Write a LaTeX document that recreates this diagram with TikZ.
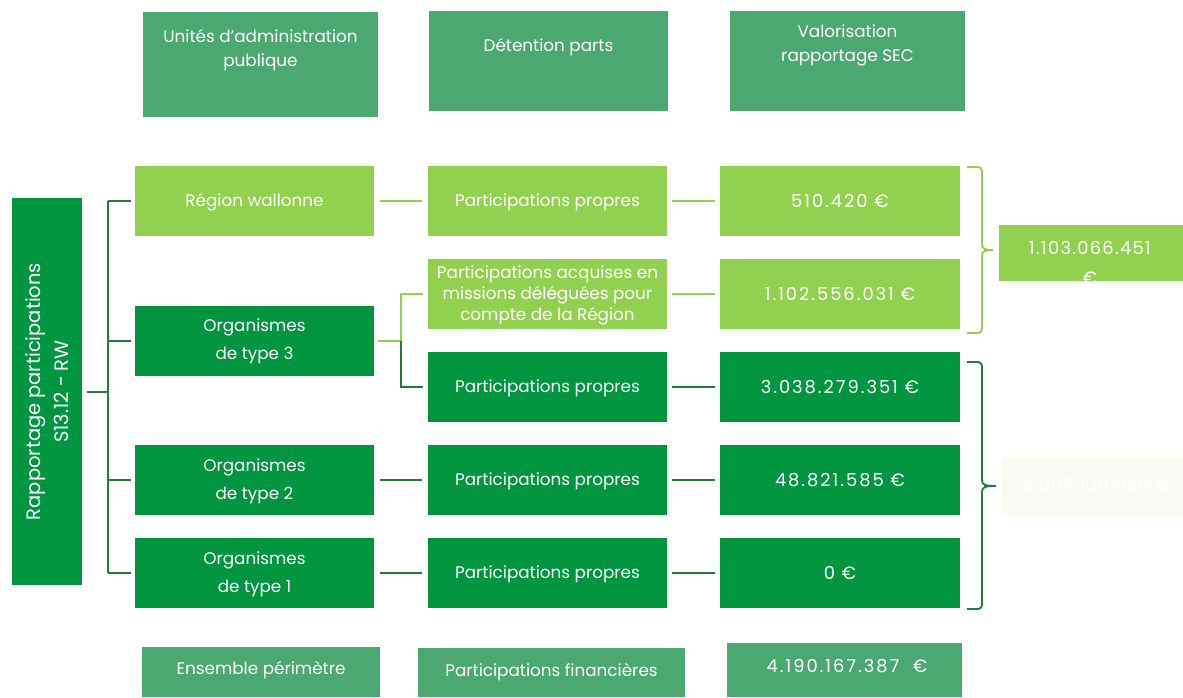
\documentclass[tikz,border=0pt]{standalone}
\usepackage{fontspec}
\setmainfont{Poppins}
\newfontfamily\numfont{Poppins}[Numbers=Monospaced, LetterSpace=11]
\newfontfamily\numfontb{Poppins}[Numbers=Monospaced, LetterSpace=7]
\definecolor{hdr}{HTML}{4AA870}
\definecolor{dk}{HTML}{009640}
\definecolor{lt}{HTML}{92D050}
\definecolor{ln}{HTML}{1E7D36}
\definecolor{pale}{HTML}{F7FBF0}
\tikzset{
  box/.style={fill=#1, draw=none, inner sep=0pt},
  wh/.style 2 args={minimum width={#1*0.75pt}, minimum height={#2*0.75pt}},
  txt/.style={text=white, inner sep=0pt, align=center, font=\fontsize{12.6}{15.8}\selectfont},
  num/.style={txt, font=\fontsize{13.4}{15.8}\selectfont\numfont},
  tree/.style={draw=ln, line width=2.2pt},
  dconn/.style={draw=ln, line width=2pt},
  lconn/.style={draw=lt, line width=2pt},
  brl/.style={draw=lt, line width=1.4pt},
  brd/.style={draw=ln, line width=1.4pt},
}
\begin{document}
\begin{tikzpicture}[x=0.75pt,y=-0.75pt]
\useasboundingbox (0,0) rectangle (1183,697);
% headers
\node[box=hdr, wh={235}{105}] (h1) at (260.5,64.5) {};
\node[txt, font=\fontsize{12.6}{18}\selectfont] (h1t) at (260.5,50) {Unités d’administration\\publique};
\node[box=hdr, wh={239}{100}] (h2) at (548.5,61) {};
\node[txt] (h2t) at (548.5,47) {Détention parts};
\node[box=hdr, wh={235}{100}] (h3) at (847.5,61) {};
\node[txt, font=\fontsize{12.6}{18}\selectfont] (h3t) at (847.5,45) {Valorisation\\rapportage SEC};
% left box
\node[box=dk, wh={70}{387}] (L) at (47,391.5) {};
\node[txt, rotate=90, font=\fontsize{14.6}{21.5}\selectfont] (Lt) at (47,391.5) {Rapportage participations\\S13.12 - RW};
% column 1
\node[box=lt, wh={239}{70}] (reg) at (254.5,201) {};
\node[txt] (regt) at (254.5,202) {Région wallonne};
\node[box=dk, wh={239}{70}] (o3) at (254.5,341) {};
\node[txt, font=\fontsize{12.6}{21}\selectfont] (o3t) at (254.5,341) {Organismes\\de type 3};
\node[box=dk, wh={239}{70}] (o2) at (254.5,480) {};
\node[txt, font=\fontsize{12.6}{21}\selectfont] (o2t) at (254.5,481) {Organismes\\de type 2};
\node[box=dk, wh={239}{70}] (o1) at (254.5,573) {};
\node[txt, font=\fontsize{12.6}{21}\selectfont] (o1t) at (254.5,574) {Organismes\\de type 1};
% column 2
\node[box=lt, wh={239}{70}] (p1) at (547.5,201) {};
\node[txt] (p1t) at (547.5,202) {Participations propres};
\node[box=lt, wh={239}{70}] (pm) at (547.5,294) {};
\node[txt] (pmt) at (547.5,295) {Participations acquises en\\missions déléguées pour\\compte de la Région};
\node[box=dk, wh={239}{70}] (p3) at (547.5,387) {};
\node[txt] (p3t) at (547.5,388) {Participations propres};
\node[box=dk, wh={239}{70}] (p2) at (547.5,480) {};
\node[txt] (p2t) at (547.5,481) {Participations propres};
\node[box=dk, wh={239}{70}] (p0) at (547.5,573) {};
\node[txt] (p0t) at (547.5,574) {Participations propres};
% column 3
\node[box=lt, wh={240}{70}] (v1) at (840,201) {};
\node[num] (v1t) at (840,201) {510.420 €};
\node[box=lt, wh={240}{70}] (vm) at (840,294) {};
\node[num] (vmt) at (840,294) {1.102.556.031 €};
\node[box=dk, wh={240}{70}] (v3) at (840,387) {};
\node[num] (v3t) at (840,387) {3.038.279.351 €};
\node[box=dk, wh={240}{70}] (v2) at (840,480) {};
\node[num] (v2t) at (840,480) {48.821.585 €};
\node[box=dk, wh={240}{70}] (v0) at (840,573) {};
\node[num] (v0t) at (840,573) {0 €};
% right totals
\begin{scope}
\clip (999,225) rectangle (1183,281);
\node[box=lt, wh={190}{56}] (t1) at (1094,253) {};
\node[num, font=\fontsize{13.4}{22.5}\selectfont\numfontb] (t1t) at (1090,263) {1.103.066.451\\€};
\end{scope}
\node[box=pale, wh={181}{57}] (t2) at (1092.5,486.5) {};
\node[num, font=\fontsize{13}{15.8}\selectfont\numfontb] (t2t) at (1096,485) {3.087.100.936 €};
% bottom row
\node[box=hdr, wh={238}{50}] (b1) at (261,672) {};
\node[txt] (b1t) at (261,670) {Ensemble périmètre};
\node[box=hdr, wh={267}{49}] (b2) at (551.5,672.5) {};
\node[txt] (b2t) at (551.5,672) {Participations financières};
\node[box=hdr, wh={235}{54}] (b3) at (844.5,670) {};
\node[num] (b3t) at (847,666) {4.190.167.387~~€};
% tree connectors
\coordinate (j) at (108,392);
\draw[tree, shorten <=3.75pt] (L.east |- j) -- (j);
\draw[tree] (j |- reg.west) -- (j |- o1.west);
\draw[tree, shorten >=3pt] (j |- reg.west) -- (reg.west);
\draw[tree, shorten >=3pt] (j |- o3.west) -- (o3.west);
\draw[tree, shorten >=3pt] (j |- o2.west) -- (o2.west);
\draw[tree, shorten >=3pt] (j |- o1.west) -- (o1.west);
% column 1 -> 2
\draw[lconn, shorten <=4.5pt, shorten >=4.5pt] (reg.east) -- (p1.west);
\coordinate (s) at (401,341);
\draw[lconn, shorten <=3pt] (o3.east) -- (s);
\draw[lconn, shorten >=3.5pt] (s) |- (pm.west);
\draw[dconn, shorten >=3.5pt] (s) |- (p3.west);
\draw[dconn, shorten <=4.5pt, shorten >=4.5pt] (o2.east) -- (p2.west);
\draw[dconn, shorten <=4.5pt, shorten >=4.5pt] (o1.east) -- (p0.west);
% column 2 -> 3
\draw[lconn, shorten <=3.75pt, shorten >=3.75pt] (p1.east) -- (v1.west);
\draw[lconn, shorten <=3.75pt, shorten >=3.75pt] (pm.east) -- (vm.west);
\draw[dconn, shorten <=3.75pt, shorten >=3.75pt] (p3.east) -- (v3.west);
\draw[dconn, shorten <=3.75pt, shorten >=3.75pt] (p2.east) -- (v2.west);
\draw[dconn, shorten <=3.75pt, shorten >=3.75pt] (p0.east) -- (v0.west);
% braces
\draw[brl] (967,167) -- (977,167) .. controls (981,167) and (982,169) .. (982,173)
  -- (982,244) .. controls (982,249) and (985,250) .. (993,250)
  .. controls (985,250) and (982,251) .. (982,256)
  -- (982,327) .. controls (982,331) and (981,333) .. (977,333) -- (967,333);
\draw[brd] (967,362) -- (977,362) .. controls (981,362) and (982,364) .. (982,368)
  -- (982,480) .. controls (982,485) and (985,486) .. (996,486)
  .. controls (985,486) and (982,487) .. (982,492)
  -- (982,603) .. controls (982,607) and (981,609) .. (977,609) -- (967,609);
\end{tikzpicture}
\end{document}
